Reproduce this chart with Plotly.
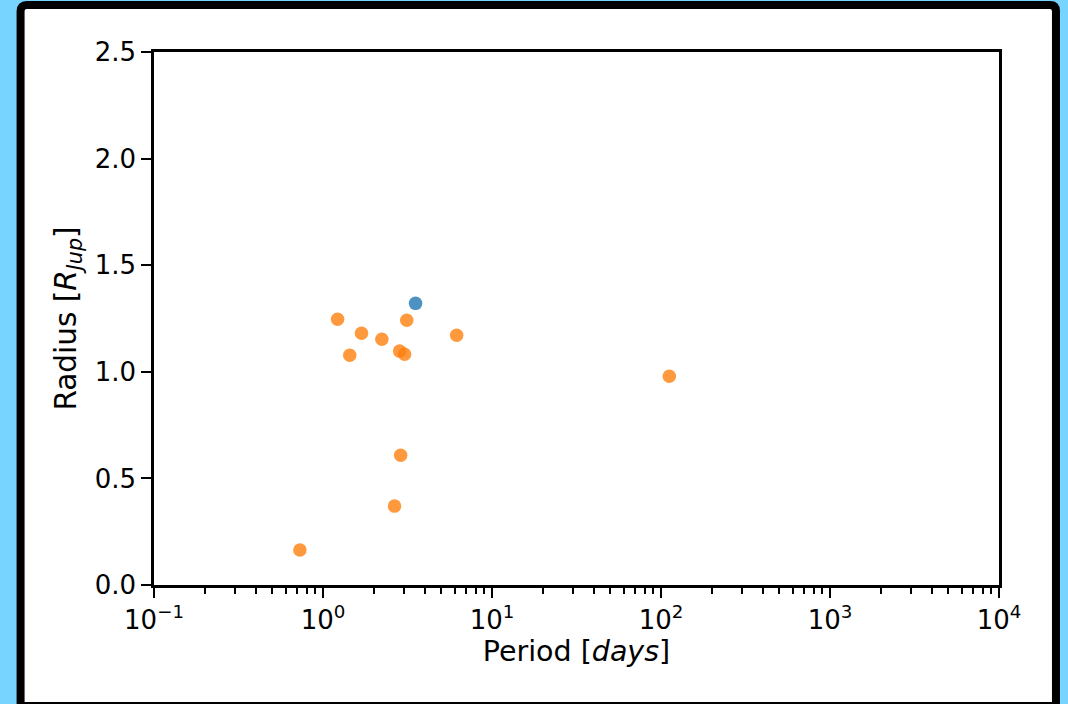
import plotly.graph_objects as go

# Data
orange_period = [1.22, 1.44, 1.69, 2.23, 2.84, 3.04, 3.13, 6.18, 112.0, 2.88, 2.65, 0.73]
orange_radius = [1.246, 1.078, 1.181, 1.153, 1.097, 1.082, 1.242, 1.171, 0.979, 0.609, 0.370, 0.164]
blue_period = [3.53]
blue_radius = [1.321]

x_tickvals = [0.1, 1, 10, 100, 1000, 10000]
x_ticktext = ["10<sup>\u22121</sup>", "10<sup>0</sup>", "10<sup>1</sup>",
              "10<sup>2</sup>", "10<sup>3</sup>", "10<sup>4</sup>"]

W, H = 1068, 704
L, R, T, B = 153.5, 999, 51.5, 585


def px(x):
    return (x - L) / (R - L)


def py(y):
    return (B - y) / (B - T)


fig = go.Figure()
fig.add_trace(go.Scatter(x=orange_period, y=orange_radius, mode="markers",
                         marker=dict(color="#ff7f0e", size=13.5, opacity=0.8, line=dict(width=0)),
                         showlegend=False))
fig.add_trace(go.Scatter(x=blue_period, y=blue_radius, mode="markers",
                         marker=dict(color="#1f77b4", size=13.5, opacity=0.8, line=dict(width=0)),
                         showlegend=False))

# rounded frame
x0, x1, y0, y1, r = 20, 1056, 4.5, 706, 6
path = (f"M {px(x0 + r)},{py(y0)} L {px(x1 - r)},{py(y0)} "
        f"Q {px(x1)},{py(y0)} {px(x1)},{py(y0 + r)} "
        f"L {px(x1)},{py(y1)} L {px(x0)},{py(y1)} L {px(x0)},{py(y0 + r)} "
        f"Q {px(x0)},{py(y0)} {px(x0 + r)},{py(y0)} Z")
fig.add_shape(type="path", path=path, xref="paper", yref="paper",
              line=dict(color="black", width=8), fillcolor="white", layer="below")

tick_font = dict(family="DejaVu Sans", size=26, color="black")
xtitle_font = dict(family="DejaVu Sans", size=28.5, color="black")
ytitle_font = dict(family="DejaVu Sans", size=29.5, color="black")

fig.update_layout(
    width=W, height=H,
    margin=dict(l=L, r=W - R, t=T, b=H - B, autoexpand=False),
    paper_bgcolor="#77d4ff",
    plot_bgcolor="rgba(0,0,0,0)",
    font=tick_font,
    xaxis=dict(type="log", range=[-1, 4], tickvals=x_tickvals, ticktext=x_ticktext,
               tickfont=tick_font,
               showline=True, linecolor="black", linewidth=2.5, mirror=True,
               ticks="outside", ticklen=10, tickwidth=2, tickcolor="black",
               showgrid=False, zeroline=False,
               minor=dict(ticks="outside", ticklen=6, tickwidth=1.5, tickcolor="black",
                          dtick="D1", showgrid=False),
               title=dict(text="Period [<i>days</i>]", font=xtitle_font, standoff=4)),
    yaxis=dict(range=[0, 2.5], dtick=0.5, tickformat=".1f", tickfont=tick_font,
               showline=True, linecolor="black", linewidth=2.5, mirror=True,
               ticks="outside", ticklen=10, tickwidth=2, tickcolor="black",
               showgrid=False, zeroline=False,
               title=dict(text="Radius [<i>R</i><sub><i>Jup</i></sub>]", font=ytitle_font, standoff=10)),
)

fig.write_html("out.html")
